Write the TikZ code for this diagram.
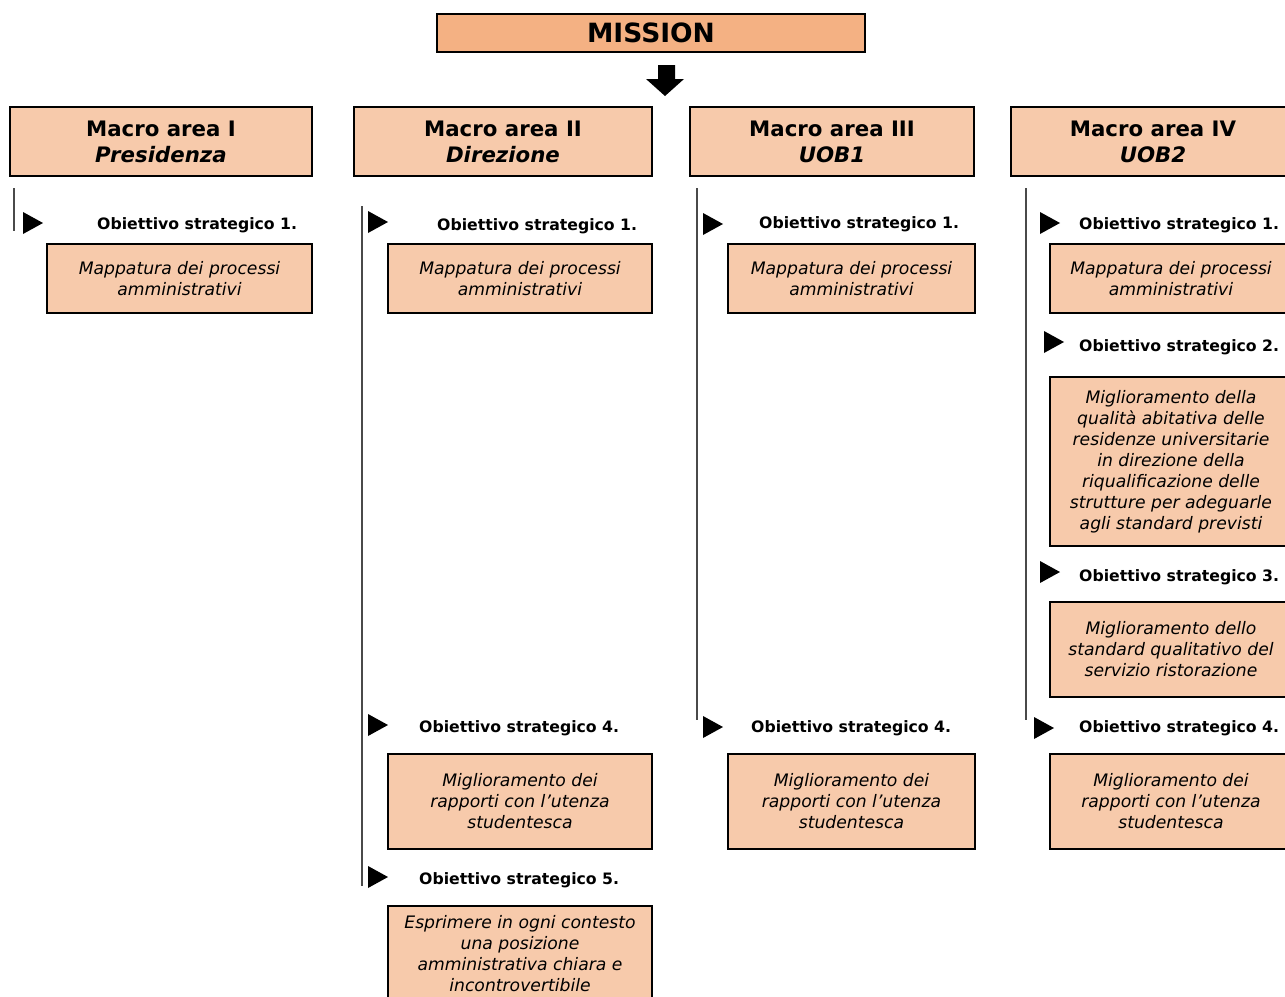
\documentclass[tikz,border=0pt]{standalone}
\usepackage{fontspec}
\setmainfont{DejaVu Sans}
\usepackage{xcolor}
\usetikzlibrary{positioning}
\definecolor{mfill}{HTML}{F4B183}
\definecolor{afill}{HTML}{F7CAAB}
\definecolor{rgray}{HTML}{4A4A4A}

\begin{document}
\begin{tikzpicture}[x=1pt, y=-1pt,
  mission/.style={draw, line width=1.6pt, fill=mfill, minimum width=428pt, minimum height=38pt, inner sep=0pt, font=\fontsize{26.5}{30}\selectfont\bfseries},
  area/.style={draw, line width=1.6pt, fill=afill, minimum height=69pt, inner sep=0pt, align=center, font=\fontsize{21.3}{26}\selectfont\bfseries},
  goal/.style={draw, line width=1.6pt, fill=afill, inner sep=0pt, align=center, font=\fontsize{17.2}{21}\selectfont\itshape},
  obj/.style={anchor=west, inner sep=0pt, font=\fontsize{15.7}{18}\selectfont\bfseries},
  rail/.style={line width=1.2pt, rgray}]
\useasboundingbox (0,0) rectangle (1285,996);
\clip (0,0) rectangle (1285,996);
% mission and block arrow
\node[mission] (mis) at (651,33) {MISSION};
\fill (658,65) -- (675,65) -- (675,79) -- (684,79) -- (665,96) -- (646,79) -- (658,79) -- cycle;
% macro areas
\node[area, minimum width=302pt] (a1) at (161,141.5) {Macro area I\\\textit{Presidenza}};
\node[area, minimum width=298pt] (a2) at (503,141.5) {Macro area II\\\textit{Direzione}};
\node[area, minimum width=284pt] (a3) at (832,141.5) {Macro area III\\\textit{UOB1}};
\node[area, minimum width=284pt] (a4) at (1153,141.5) {Macro area IV\\\textit{UOB2}};
% side rails
\draw[rail] (14,188) -- (14,231);
\draw[rail] (362,206) -- (362,886);
\draw[rail] (697,188) -- (697,720);
\draw[rail] (1026,188) -- (1026,720);
% markers
\foreach \x/\y in {23/223, 368/222, 368/725, 368/877, 703/224, 703/727,
                   1040/223, 1044/342, 1040/572, 1034/728}
  \fill (\x,\y-11) -- ++(20,11) -- ++(-20,11) -- cycle;
% objectives
\node[obj] (o11) at (97,225) {Obiettivo strategico 1.};
\node[obj] (o21) at (437,226) {Obiettivo strategico 1.};
\node[obj] (o24) at (419,728) {Obiettivo strategico 4.};
\node[obj] (o25) at (419,880) {Obiettivo strategico 5.};
\node[obj] (o31) at (759,224) {Obiettivo strategico 1.};
\node[obj] (o34) at (751,728) {Obiettivo strategico 4.};
\node[obj] (o41) at (1079,225) {Obiettivo strategico 1.};
\node[obj] (o42) at (1079,347) {Obiettivo strategico 2.};
\node[obj] (o43) at (1079,577) {Obiettivo strategico 3.};
\node[obj] (o44) at (1079,728) {Obiettivo strategico 4.};
% goals
\node[goal, minimum width=265pt, minimum height=69pt] (g11) at (179.5,278.5) {Mappatura dei processi\\amministrativi};
\node[goal, minimum width=264pt, minimum height=69pt] (g21) at (520,278.5) {Mappatura dei processi\\amministrativi};
\node[goal, minimum width=264pt, minimum height=95pt] (g24) at (520,801.5) {Miglioramento dei\\rapporti con l’utenza\\studentesca};
\node[goal, minimum width=264pt, minimum height=96pt] (g25) at (520,954) {Esprimere in ogni contesto\\una posizione\\amministrativa chiara e\\incontrovertibile};
\node[goal, minimum width=247pt, minimum height=69pt] (g31) at (851.5,278.5) {Mappatura dei processi\\amministrativi};
\node[goal, minimum width=247pt, minimum height=95pt] (g34) at (851.5,801.5) {Miglioramento dei\\rapporti con l’utenza\\studentesca};
\node[goal, minimum width=242pt, minimum height=69pt] (g41) at (1171,278.5) {Mappatura dei processi\\amministrativi};
\node[goal, minimum width=242pt, minimum height=169pt] (g42) at (1171,461.5) {Miglioramento della\\qualità abitativa delle\\residenze universitarie\\in direzione della\\riqualificazione delle\\strutture per adeguarle\\agli standard previsti};
\node[goal, minimum width=242pt, minimum height=95pt] (g43) at (1171,649.5) {Miglioramento dello\\standard qualitativo del\\servizio ristorazione};
\node[goal, minimum width=242pt, minimum height=95pt] (g44) at (1171,801.5) {Miglioramento dei\\rapporti con l’utenza\\studentesca};
\end{tikzpicture}
\end{document}
